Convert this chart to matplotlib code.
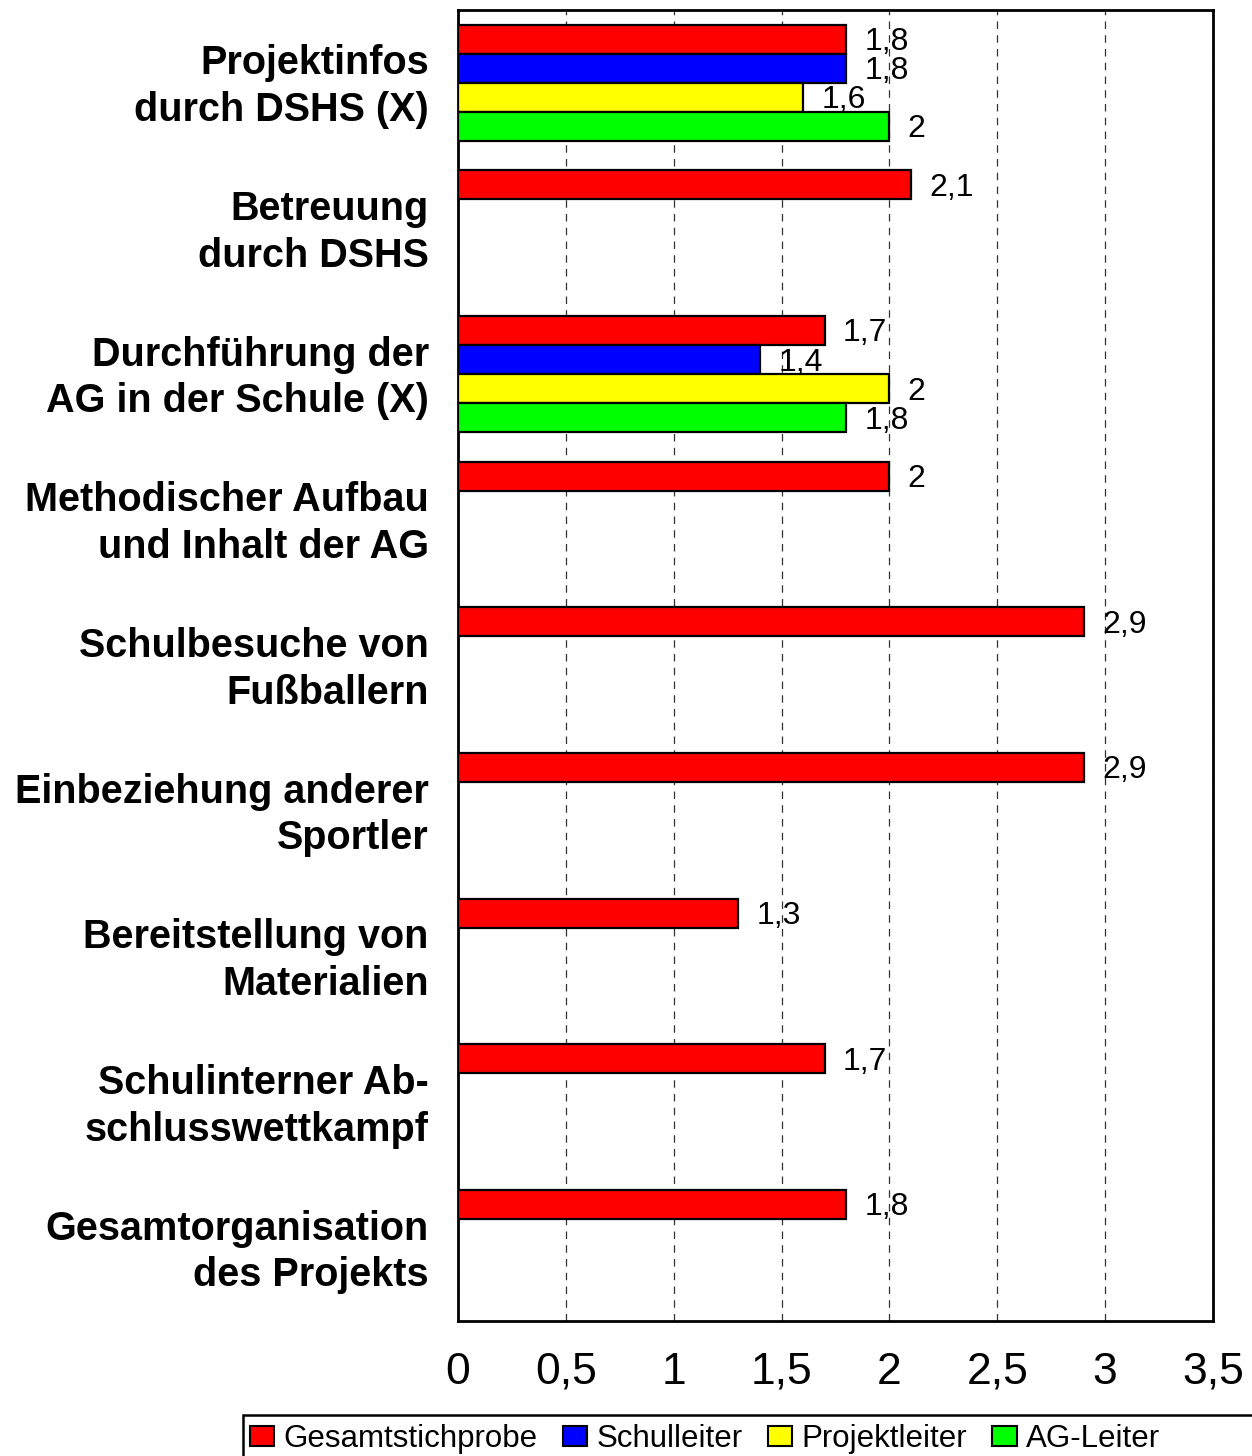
import matplotlib
matplotlib.use("Agg")
import matplotlib.pyplot as plt
import numpy as np
from matplotlib.patches import Patch, Rectangle

categories = [
    "Projektinfos\ndurch DSHS (X)",
    "Betreuung\ndurch DSHS",
    "Durchführung der\nAG in der Schule (X)",
    "Methodischer Aufbau\nund Inhalt der AG",
    "Schulbesuche von\nFußballern",
    "Einbeziehung anderer\nSportler",
    "Bereitstellung von\nMaterialien",
    "Schulinterner Ab-\nschlusswettkampf",
    "Gesamtorganisation\ndes Projekts",
]
series_names = ["Gesamtstichprobe", "Schulleiter", "Projektleiter", "AG-Leiter"]
gesamt = [1.8, 2.1, 1.7, 2.0, 2.9, 2.9, 1.3, 1.7, 1.8]
schulleiter = [1.8, None, 1.4, None, None, None, None, None, None]
projektleiter = [1.6, None, 2.0, None, None, None, None, None, None]
agleiter = [2.0, None, 1.8, None, None, None, None, None, None]
xticks = [0, 0.5, 1, 1.5, 2, 2.5, 3, 3.5]
xtick_labels = ["0", "0,5", "1", "1,5", "2", "2,5", "3", "3,5"]

colors = ["#ff0000", "#0000ff", "#ffff00", "#00ff00"]
series = [gesamt, schulleiter, projektleiter, agleiter]

plt.rcParams["font.family"] = ["Liberation Sans", "DejaVu Sans"]

W, H = 1252, 1456
fig = plt.figure(figsize=(W/100, H/100), dpi=100)
ax = fig.add_axes([458/W, 1-1321/H, (1213-458)/W, (1321-10)/H])

n = len(categories)
ax.set_xlim(0, 3.5)
ax.set_ylim(n, 0)

def fmt(v):
    s = ("%.1f" % v).rstrip("0").rstrip(".")
    return s.replace(".", ",")

bar_h = 0.2
for si, (vals, col) in enumerate(zip(series, colors)):
    for gi, v in enumerate(vals):
        if v is None:
            continue
        yc = gi + 0.2 + si * bar_h
        ax.barh(yc, v, height=bar_h, color=col, edgecolor="black", linewidth=1.6, zorder=3)
        ax.text(v + 0.085, yc + 0.02, fmt(v), ha="left", va="center", fontsize=23, zorder=4)

ax.set_xticks(xticks)
ax.set_xticklabels(xtick_labels, fontsize=32)
ax.set_yticks([i + 0.47 for i in range(n)])
ax.set_yticklabels(categories, fontsize=28.5, fontweight="bold", linespacing=1.29)
ax.tick_params(axis="x", length=0, pad=22)
ax.tick_params(axis="y", length=0, pad=21)
ax.grid(axis="x", color="#333333", linestyle=(0, (6, 5)), linewidth=0.9, zorder=0)
for sp in ax.spines.values():
    sp.set_linewidth(2)
    sp.set_color("black")

# legend frame (extends past the right edge as in the original)
fig.patches.append(Rectangle((243/W, -0.02), 1.0, (1-1415/H) + 0.02,
                             transform=fig.transFigure, facecolor="white",
                             edgecolor="black", linewidth=1.8, zorder=1))
handles = [Patch(facecolor=c, edgecolor="black", linewidth=1.5) for c in colors]
leg = fig.legend(handles, series_names, loc="center left",
                 bbox_to_anchor=(250/W, 1-1439/H), ncol=4,
                 frameon=False,
                 prop={"size": 22.5},
                 handlelength=0.78, handleheight=0.62, handletextpad=0.3,
                 columnspacing=0.8, borderpad=0.0, borderaxespad=0)
leg.set_zorder(2)

fig.savefig("out.png", dpi=100)
